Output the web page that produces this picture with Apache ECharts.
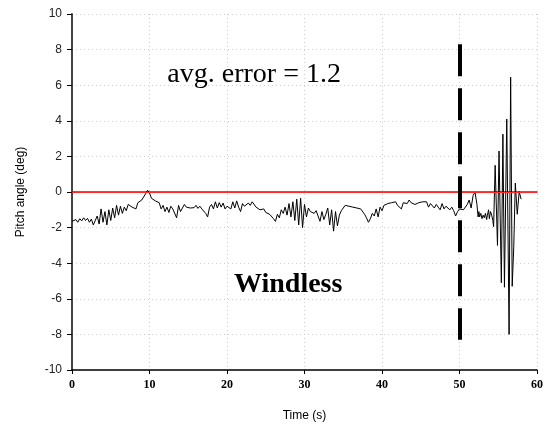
<!DOCTYPE html>
<html>
<head>
<meta charset="utf-8">
<script src="https://cdn.jsdelivr.net/npm/echarts@6/dist/echarts.min.js"></script>
<style>html,body{margin:0;padding:0;background:#fff;}#c{width:546px;height:432px;}</style>
</head>
<body>
<div id="c"></div>
<script>
// ---- data ----
const xTicks = [0, 10, 20, 30, 40, 50, 60];
const yTicks = [-10, -8, -6, -4, -2, 0, 2, 4, 6, 8, 10];
const time = [
  0.00,0.25,0.50,0.75,1.00,1.25,1.50,1.75,2.00,2.25,2.50,2.75,3.00,3.25,3.50,3.75,4.00,4.25,4.50,4.75,
  5.00,5.25,5.50,5.75,6.00,6.25,6.50,6.75,7.00,7.25,7.50,7.75,8.00,8.25,8.50,8.75,9.00,9.25,9.50,9.75,
  10.00,10.25,10.50,10.75,11.00,11.25,11.50,11.75,12.00,12.25,12.50,12.75,13.00,13.25,13.50,13.75,14.00,14.25,14.50,14.75,
  15.00,15.25,15.50,15.75,16.00,16.25,16.50,16.75,17.00,17.25,17.50,17.75,18.00,18.25,18.50,18.75,19.00,19.25,19.50,19.75,
  20.00,20.25,20.50,20.75,21.00,21.25,21.50,21.75,22.00,22.25,22.50,22.75,23.00,23.25,23.50,23.75,24.00,24.25,24.50,24.75,
  25.00,25.25,25.50,25.75,26.00,26.25,26.50,26.75,27.00,27.25,27.50,27.75,28.00,28.25,28.50,28.75,29.00,29.25,29.50,29.75,
  30.00,30.25,30.50,30.75,31.00,31.25,31.50,31.75,32.00,32.25,32.50,32.75,33.00,33.25,33.50,33.75,34.00,34.25,34.50,34.75,
  35.00,35.25,35.50,35.75,36.00,36.25,36.50,36.75,37.00,37.25,37.50,37.75,38.00,38.25,38.50,38.75,39.00,39.25,39.50,39.75,
  40.00,40.25,40.50,40.75,41.00,41.25,41.50,41.75,42.00,42.25,42.50,42.75,43.00,43.25,43.50,43.75,44.00,44.25,44.50,44.75,
  45.00,45.25,45.50,45.75,46.00,46.25,46.50,46.75,47.00,47.25,47.50,47.75,48.00,48.25,48.50,48.75,49.00,49.25,49.50,49.75,
  50.00,50.25,50.50,50.75,51.00,51.25,51.50,51.75,52.00,52.25,52.40,
  52.50,52.60,52.75,52.90,53.05,53.20,53.35,53.50,53.60,53.75,53.85,54.00,54.15,54.30,54.40,
  54.60,54.90,55.10,55.40,55.60,55.80,56.10,56.40,56.60,56.80,57.00,57.20,57.45,57.70,57.95
];
const pitch = [
  -1.65,-1.75,-1.55,-1.70,-1.50,-1.62,-1.45,-1.60,-1.48,-1.70,-1.52,-1.85,-1.95,-1.35,-1.80,-0.95,-1.70,-1.10,-1.85,-1.00,
  -1.60,-0.90,-1.45,-0.75,-1.30,-0.80,-1.20,-0.85,-1.05,-0.70,-0.65,-0.85,-0.75,-0.95,-0.60,-0.55,-0.45,-0.50,-0.10,0.10,
  -0.05,-0.35,-0.30,-0.50,-0.45,-0.60,-0.95,-0.75,-1.10,-0.85,-1.15,-0.80,-0.95,-0.90,-1.45,-0.75,-1.10,-0.90,-0.70,-0.85,
  -0.75,-0.90,-0.80,-0.88,-0.75,-0.92,-0.80,-0.95,-1.05,-1.20,-1.40,-0.85,-0.70,-0.95,-0.55,-0.90,-0.60,-0.85,-0.62,-0.95,
  -0.80,-0.70,-0.95,-0.55,-0.90,-0.50,-0.85,-1.10,-0.65,-0.80,-0.70,-0.62,-0.75,-0.55,-0.60,-0.85,-0.80,-1.00,-1.05,-0.95,
  -1.15,-1.10,-1.25,-1.35,-1.50,-1.65,-1.25,-1.45,-1.00,-1.20,-0.85,-1.30,-0.65,-1.40,-0.55,-1.60,-0.40,-1.85,-0.35,-2.00,
  -0.70,-1.40,-0.90,-1.10,-1.00,-1.20,-1.05,-1.35,-1.65,-1.10,-1.55,-1.25,-0.90,-1.85,-1.00,-2.20,-1.10,-1.90,-1.30,-1.05,
  -0.90,-0.75,-0.65,-0.80,-0.70,-0.85,-0.75,-0.90,-0.80,-0.95,-1.00,-1.25,-1.45,-1.70,-1.50,-1.20,-1.35,-0.95,-1.40,-0.85,
  -1.05,-0.75,-0.85,-0.65,-0.75,-0.60,-0.70,-0.55,-0.75,-0.65,-0.95,-0.60,-0.50,-0.65,-0.45,-0.60,-0.50,-0.70,-0.80,-0.60,
  -0.70,-0.55,-0.65,-0.55,-0.85,-0.65,-0.75,-0.90,-0.70,-0.85,-1.00,-0.65,-0.95,-0.80,-0.90,-1.00,-0.85,-1.05,-1.35,-1.10,
  -0.95,-1.05,-1.00,-1.10,-0.70,-0.45,-0.90,-0.20,0.00,-0.70,-1.40,
  -1.10,-1.40,-1.20,-1.50,-1.30,-1.45,-1.20,-1.55,-1.30,-1.00,-1.50,-1.10,-1.30,-1.60,-1.95,
  1.50,-3.00,2.30,-5.10,3.25,-5.35,4.10,-8.00,6.45,-5.30,-3.10,0.50,-1.25,0.02,-0.40
];
const referenceLevel = 0;
const switchTime = 50;
const switchSpan = [8.3, -8.3];
const errorLabel = 'avg. error = 1.2';
const errorLabelAt = [12.3, 6.4];
const conditionLabel = 'Windless';
const conditionLabelAt = [20.9, -5.4];

const seriesData = time.map((t, i) => [t, pitch[i]]);

const chart = echarts.init(document.getElementById('c'), null, {renderer: 'canvas'});
const serif = '"Liberation Serif", "Times New Roman", serif';
const sans = '"Liberation Sans", Arial, sans-serif';

const option = {
  animation: false,
  backgroundColor: '#fff',
  grid: {left: 72, right: 9, top: 14, bottom: 62, containLabel: false},
  xAxis: [{
    type: 'value', min: xTicks[0], max: xTicks[xTicks.length - 1], interval: 10,
    name: 'Time (s)', nameLocation: 'middle', nameGap: 40,
    nameTextStyle: {fontFamily: sans, fontSize: 12, color: '#000'},
    axisLine: {show: true, onZero: false, lineStyle: {color: '#000', width: 1.5}},
    axisTick: {show: true, inside: false, length: 4, lineStyle: {color: '#000', width: 1}},
    axisLabel: {fontFamily: serif, fontWeight: 'bold', fontSize: 12, color: '#000', margin: 9},
    splitLine: {show: true, lineStyle: {color: '#cfcfcf', type: [1, 3], width: 1}}
  }, {
    type: 'value', position: 'top', min: xTicks[0], max: xTicks[xTicks.length - 1],
    axisLine: {show: true, lineStyle: {color: '#444', width: 1.5}},
    axisTick: {show: false}, axisLabel: {show: false}, splitLine: {show: false}
  }],
  yAxis: [{
    type: 'value', min: yTicks[0], max: yTicks[yTicks.length - 1], interval: 2,
    name: 'Pitch angle (deg)', nameLocation: 'middle', nameGap: 45,
    nameTextStyle: {fontFamily: sans, fontSize: 12, color: '#000'},
    axisLine: {show: true, onZero: false, lineStyle: {color: '#000', width: 1.5}},
    axisTick: {show: true, inside: false, length: 5, lineStyle: {color: '#000', width: 1}},
    axisLabel: {fontFamily: sans, fontSize: 12, color: '#222', margin: 10},
    splitLine: {show: true, lineStyle: {color: '#cfcfcf', type: [1, 3], width: 1}}
  }, {
    type: 'value', position: 'right', min: yTicks[0], max: yTicks[yTicks.length - 1],
    axisLine: {show: true, lineStyle: {color: '#444', width: 1.5}},
    axisTick: {show: false}, axisLabel: {show: false}, splitLine: {show: false}
  }],
  series: [{
    type: 'line',
    data: seriesData,
    showSymbol: false,
    symbol: 'none',
    lineStyle: {color: '#000', width: 1},
    z: 3,
    markLine: {
      silent: true, symbol: 'none', animation: false,
      label: {show: false},
      data: [
        [{coord: [xTicks[0], referenceLevel], lineStyle: {color: '#ff2a2a', width: 1, type: 'solid'}},
         {coord: [xTicks[xTicks.length - 1], referenceLevel]}],
        [{coord: [switchTime, switchSpan[0]], lineStyle: {color: '#000', width: 4, type: [32, 12]}},
         {coord: [switchTime, switchSpan[1]]}]
      ]
    }
  }]
};
chart.setOption(option);

const p1 = chart.convertToPixel({xAxisIndex: 0, yAxisIndex: 0}, errorLabelAt);
const p2 = chart.convertToPixel({xAxisIndex: 0, yAxisIndex: 0}, conditionLabelAt);
chart.setOption({
  graphic: [
    {type: 'text', left: p1[0], top: p1[1] - 17, z: 10,
     style: {text: errorLabel, fontFamily: serif, fontSize: 28, fill: '#000'}},
    {type: 'text', left: p2[0], top: p2[1] - 17, z: 10,
     style: {text: conditionLabel, fontFamily: serif, fontSize: 28, fontWeight: 'bold', fill: '#000'}}
  ]
});
</script>
</body>
</html>
